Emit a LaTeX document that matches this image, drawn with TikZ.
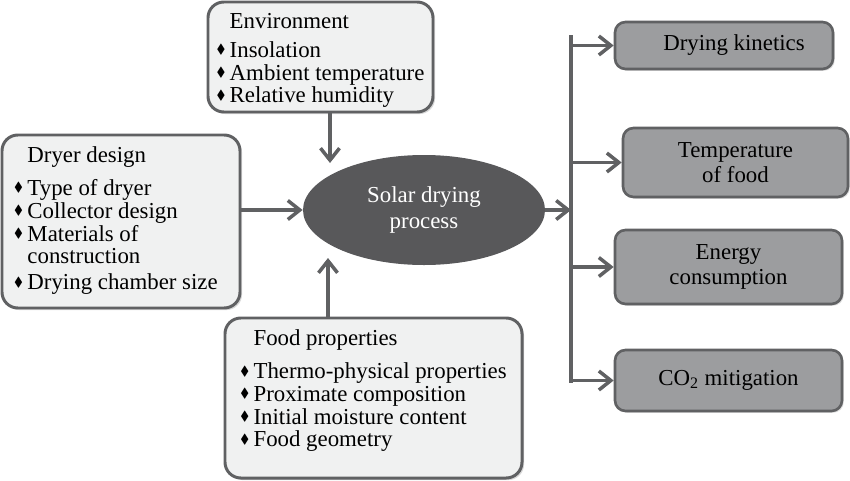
\documentclass[tikz,border=0pt]{standalone}
\usepackage{amssymb}
\usepackage{graphicx}
\usepackage{fontspec}
\setmainfont{Liberation Serif}
\usetikzlibrary{positioning,calc,shapes.geometric,arrows.meta,shadows}
\definecolor{dryerline}{HTML}{606163}
\definecolor{dryerpale}{HTML}{F0F1F1}
\definecolor{dryermid}{HTML}{9C9D9F}
\definecolor{dryerdark}{HTML}{58585A}
\newcommand{\dryitem}{\raisebox{0.35ex}{\scalebox{0.58}{$\blacklozenge$}}}
\tikzset{
  factorbox/.style={draw=dryerline,line width=1.7pt,fill=dryerpale,rounded corners=9pt,
    drop shadow={shadow xshift=1.2pt,shadow yshift=-1.2pt,opacity=0.3},
    align=left,inner sep=0pt,font=\fontsize{13}{12.9}\selectfont},
  resultbox/.style={draw=dryerline,line width=1.5pt,fill=dryermid,rounded corners=6pt,
    drop shadow={shadow xshift=1pt,shadow yshift=-1pt,opacity=0.25},
    align=center,inner sep=0pt,font=\fontsize{13}{14.2}\selectfont},
  flowarrow/.style={draw=dryerline,line width=2.2pt,
    -{Straight Barb[length=2.4mm,width=3.8mm,line width=2pt]}}
}
\begin{document}
\begin{tikzpicture}
  \useasboundingbox (0,0) rectangle (17,9.6);
  \node[factorbox,minimum width=4.5cm,minimum height=2.2cm] (env) at (6.41,8.46)
    {\begin{tabular}{@{}l@{\hspace{2.5pt}}l@{}}
      & \rule{0pt}{14pt}Environment\\[3.5pt]
      \dryitem & Insolation\\
      \dryitem & Ambient temperature\\
      \dryitem & Relative humidity
    \end{tabular}};
  \node[factorbox,minimum width=4.76cm,minimum height=3.46cm] (dryer) at (2.42,5.17)
    {\begin{tabular}{@{}l@{\hspace{2.5pt}}l@{}}
      & Dryer design\\[6pt]
      \dryitem & Type of dryer\\
      \dryitem & Collector design\\
      \dryitem & Materials of\\
      & construction\\[2pt]
      \dryitem & Drying chamber size
    \end{tabular}\hspace*{0.2cm}};
  \node[factorbox,minimum width=5.94cm,minimum height=3.2cm] (food) at (7.47,1.64)
    {\begin{tabular}{@{}l@{\hspace{2.5pt}}l@{}}
      & Food properties\\[6pt]
      \dryitem & Thermo-physical properties\\
      \dryitem & Proximate composition\\
      \dryitem & Initial moisture content\\
      \dryitem & Food geometry\\[7pt]
    \end{tabular}};
  \node[ellipse,fill=dryerdark,minimum width=4.84cm,minimum height=2.2cm,inner sep=0pt,
        text=white,align=center,font=\fontsize{13}{14.5}\selectfont] (sol) at (8.48,5.4)
    {Solar drying\\process};

  \node[resultbox,minimum width=4.36cm,minimum height=0.94cm] (kin) at (14.48,8.69)
    {\hspace*{0.4cm}Drying kinetics};
  \node[resultbox,minimum width=4.5cm,minimum height=1.38cm] (temp) at (14.71,6.35)
    {Temperature\\of food};
  \node[resultbox,minimum width=4.54cm,minimum height=1.48cm] (energy) at (14.57,4.26)
    {Energy\\consumption};
  \node[resultbox,minimum width=4.54cm,minimum height=1.22cm] (co2) at (14.57,1.99)
    {CO\textsubscript{2} mitigation};

  \coordinate (envin) at (6.6,6.34);
  \coordinate (foodin) at (6.56,4.44);
  \coordinate (bustop) at (11.42,8.9);
  \coordinate (busbot) at (11.42,1.94);

  \draw[flowarrow] (env.south -| envin) -- (envin);
  \draw[flowarrow] (food.north -| foodin) -- (foodin);
  \draw[flowarrow] (dryer.east |- sol.west) -- (sol.west);
  \draw[flowarrow] (sol.east) -- (sol.east -| bustop);
  \draw[dryerline,line width=2.2pt] (bustop) -- (busbot);
  \foreach \res in {kin,temp,energy,co2}
    \draw[flowarrow] (\res.west -| bustop) -- (\res.west);
\end{tikzpicture}
\end{document}
